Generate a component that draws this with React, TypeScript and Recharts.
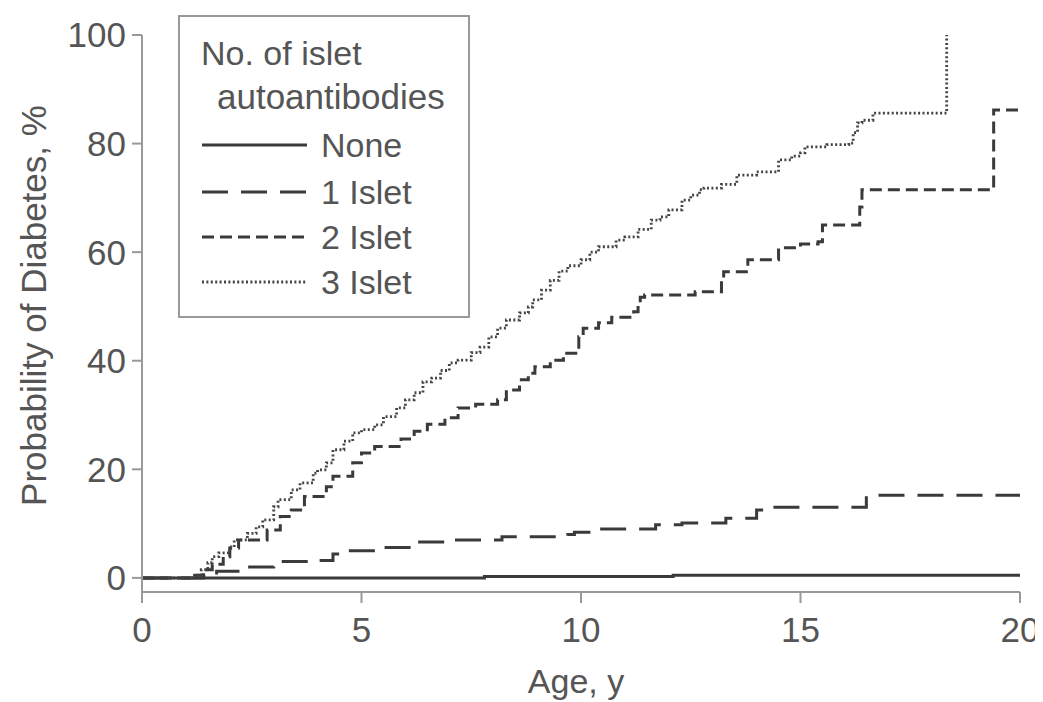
import React from 'react';
import { LineChart, Line, XAxis, YAxis } from 'recharts';

const xTicks = [0, 5, 10, 15, 20];
const yTicks = [0, 20, 40, 60, 80, 100];

const noneAge = [0, 7.8, 12.1, 20];
const nonePct = [0, 0.25, 0.5, 0.5];

const islet1Age = [0, 1.4, 1.7, 2.3, 3.0, 3.9, 4.35, 4.65, 5.4, 6.2, 6.9, 8.2, 9.7, 9.85, 10.3, 11.7, 12.3, 13.3, 14.0, 14.3, 16.5, 20];
const islet1Pct = [0, 0.3, 1.2, 2.0, 3.0, 3.2, 4.4, 5.0, 5.6, 6.6, 7.0, 7.6, 8.0, 8.4, 9.0, 9.8, 10.1, 11.0, 12.5, 13.0, 15.2, 15.2];

const islet2Age = [0, 1.2, 1.4, 1.6, 1.85, 2.0, 2.2, 2.85, 3.15, 3.4, 3.7, 4.2, 4.35, 4.8, 5.0, 5.3, 5.9, 6.2, 6.5, 6.9, 7.2, 7.6, 8.1, 8.3, 8.6, 8.8, 8.95, 9.3, 9.6, 9.95, 10.05, 10.4, 10.7, 11.2, 11.3, 11.35, 11.45, 12.6, 13.2, 13.25, 13.8, 14.5, 15.0, 15.4, 15.5, 16.35, 16.4, 19.4, 20];
const islet2Pct = [0, 0.5, 1.5, 2.5, 3.9, 5.5, 7.0, 8.8, 11.3, 12.5, 15.0, 16.8, 18.7, 21.2, 23.0, 24.2, 25.6, 27.0, 28.3, 29.5, 31.3, 32.0, 32.8, 34.6, 36.5, 37.7, 38.9, 40.1, 41.4, 44.4, 46.0, 47.0, 48.0, 49.0, 50.5, 51.7, 52.1, 52.7, 55.0, 56.4, 58.6, 60.8, 61.5, 61.9, 65.0, 68.3, 71.5, 86.2, 86.2];

const islet3Age = [0, 1.2, 1.35, 1.5, 1.6, 1.75, 2.0, 2.1, 2.4, 2.6, 2.75, 3.0, 3.1, 3.4, 3.6, 3.9, 4.0, 4.2, 4.35, 4.6, 4.8, 5.0, 5.3, 5.5, 5.8, 6.0, 6.2, 6.4, 6.6, 6.8, 7.0, 7.2, 7.5, 7.7, 7.9, 8.1, 8.3, 8.6, 8.8, 8.9, 9.1, 9.3, 9.5, 9.7, 10.0, 10.2, 10.4, 10.8, 11.0, 11.3, 11.6, 11.8, 12.0, 12.3, 12.5, 12.7, 12.8, 13.2, 13.55, 14.0, 14.5, 14.8, 15.0, 15.1, 15.6, 16.1, 16.2, 16.3, 16.4, 16.65, 18.33];
const islet3Pct = [0, 0.5, 1.5, 2.8, 3.9, 4.6, 5.7, 7.0, 8.2, 9.4, 10.7, 13.1, 14.4, 16.2, 17.5, 19.3, 19.9, 21.2, 23.6, 25.2, 26.7, 27.3, 28.2, 29.7, 31.3, 32.8, 34.1, 36.1, 36.8, 38.2, 39.6, 40.1, 41.5, 42.5, 44.4, 46.0, 47.5, 48.8, 49.9, 51.2, 53.0, 54.8, 56.5, 57.5, 58.6, 60.0, 61.0, 62.2, 62.8, 64.2, 65.9, 66.5, 67.8, 69.6, 70.5, 71.5, 71.8, 72.5, 74.2, 74.8, 77.0, 77.7, 78.3, 79.4, 79.8, 80.1, 82.0, 83.8, 84.3, 85.6, 100];

const toPoints = (ages: number[], pcts: number[]) => ages.map((a, i) => ({ age: a, pct: pcts[i] }));

const series = [
  { key: 'none', name: 'None', data: toPoints(noneAge, nonePct), dash: undefined as string | undefined, width: 3, color: '#3a3a3a' },
  { key: 'i1', name: '1 Islet', data: toPoints(islet1Age, islet1Pct), dash: '26 13', width: 3, color: '#3a3a3a' },
  { key: 'i2', name: '2 Islet', data: toPoints(islet2Age, islet2Pct), dash: '12 6', width: 3, color: '#3a3a3a' },
  { key: 'i3', name: '3 Islet', data: toPoints(islet3Age, islet3Pct), dash: '2 2.4', width: 2.8, color: '#444' },
];

const FONT = '"Liberation Sans", Arial, Helvetica, sans-serif';
const TEXT = '#555';
const AXIS = '#999';

const LegendBox = () => {
  const rowY = [130, 177, 222, 267];
  return (
    <svg width={292} height={303} style={{ position: 'absolute', left: 170, top: 7 }}>
      <rect x={1} y={1} width={290} height={301} fill="#fff" stroke={AXIS} strokeWidth={2} />
      <text x={23} y={50} fontSize={34} fill={TEXT} fontFamily={FONT}>No. of islet</text>
      <text x={39} y={94} fontSize={35} fill={TEXT} fontFamily={FONT}>autoantibodies</text>
      {series.map((s, i) => (
        <g key={s.key}>
          <line x1={24} x2={129} y1={rowY[i]} y2={rowY[i]} stroke={s.color} strokeWidth={s.width} strokeDasharray={s.dash} />
          <text x={143} y={rowY[i] + 12} fontSize={34} fill={TEXT} fontFamily={FONT}>{s.name}</text>
        </g>
      ))}
    </svg>
  );
};

const YLabel = (props: any) => {
  const vb = props.viewBox || { x: 0, y: 27, width: 134, height: 557 };
  const cx = vb.x + 25;
  const cy = vb.y + vb.height / 2 - 8;
  return (
    <text x={cx} y={cy} transform={`rotate(-90, ${cx}, ${cy})`} textAnchor="middle" dominantBaseline="central" fontSize={35} fill={TEXT} fontFamily={FONT}>
      Probability of Diabetes, %
    </text>
  );
};

const XLabel = (props: any) => {
  const vb = props.viewBox || { x: 134, y: 584, width: 878, height: 110 };
  const cx = vb.x + vb.width / 2 - 5;
  const cy = vb.y + 101;
  return (
    <text x={cx} y={cy} textAnchor="middle" fontSize={34} fill={TEXT} fontFamily={FONT}>
      Age, y
    </text>
  );
};

export default function App() {
  return (
    <div style={{ position: 'relative', width: 1035, height: 694 }}>
      <LineChart width={1035} height={694} margin={{ top: 27, right: 23, bottom: 0, left: 0 }}>
        <XAxis
          dataKey="age"
          type="number"
          domain={[0, 20]}
          ticks={xTicks}
          allowDataOverflow
          height={110}
          tickSize={11}
          tickMargin={14}
          stroke={AXIS}
          strokeWidth={2}
          tick={{ fontSize: 35, fill: TEXT, fontFamily: FONT }}
          label={<XLabel />}
        />
        <YAxis
          type="number"
          domain={[-2.6, 100]}
          ticks={yTicks}
          allowDataOverflow
          width={134}
          tickSize={10}
          tickMargin={6}
          stroke={AXIS}
          strokeWidth={2}
          tick={{ fontSize: 35, fill: TEXT, fontFamily: FONT }}
          label={<YLabel />}
        />
        {series.map((s) => (
          <Line
            key={s.key}
            data={s.data}
            dataKey="pct"
            name={s.name}
            type="stepAfter"
            stroke={s.color}
            strokeWidth={s.width}
            strokeDasharray={s.dash}
            dot={false}
            activeDot={false}
            isAnimationActive={false}
          />
        ))}
      </LineChart>
      <LegendBox />
    </div>
  );
}
